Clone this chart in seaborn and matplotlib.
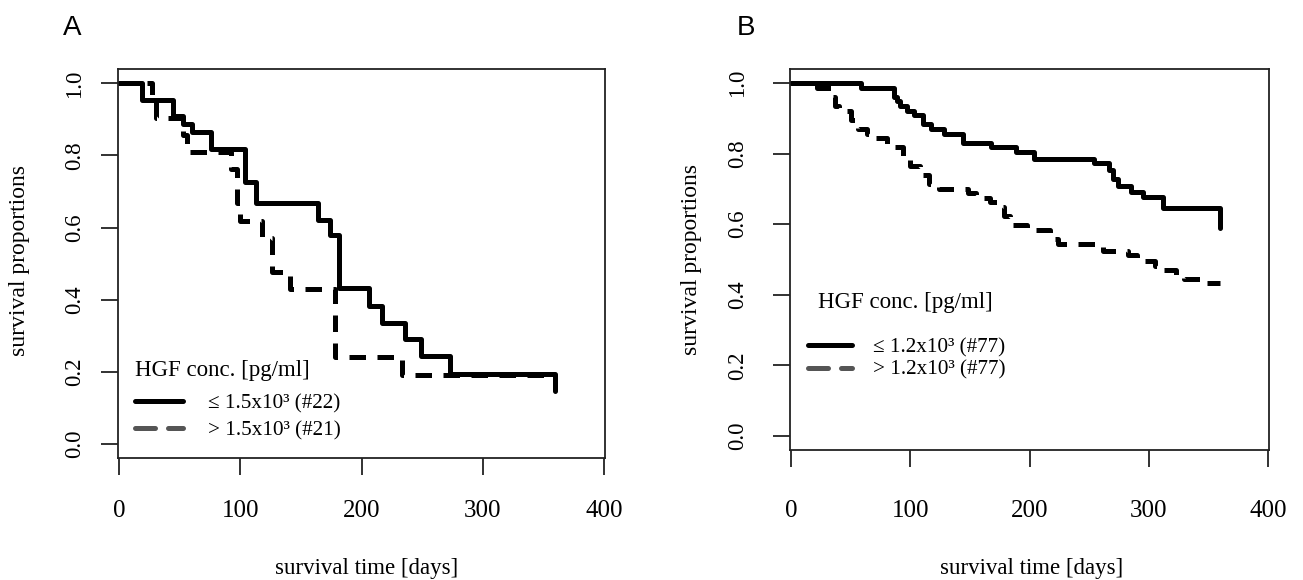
import pandas as pd
import matplotlib
matplotlib.use("Agg")
import matplotlib.pyplot as plt
from matplotlib.lines import Line2D
import seaborn as sns

# Panel A: HGF cut-off 1.5x10^3 pg/ml
a_low_days = [0, 19, 44, 53, 60, 76, 104, 113, 164, 174, 181, 206, 217, 236, 249, 273, 360]
a_low_surv = [1.0, 0.955, 0.909, 0.886, 0.864, 0.818, 0.727, 0.668, 0.621, 0.58, 0.432,
              0.381, 0.335, 0.29, 0.243, 0.192, 0.146]
a_high_days = [0, 27, 30, 53, 56, 92, 97, 100, 118, 126, 141, 178, 233, 358]
a_high_surv = [1.0, 0.952, 0.905, 0.857, 0.81, 0.762, 0.667, 0.619, 0.571, 0.476, 0.429,
               0.24, 0.19, 0.19]

# Panel B: HGF cut-off 1.2x10^3 pg/ml
b_low_days = [0, 59, 86, 89, 91, 97, 103, 111, 117, 128, 144, 168, 189, 204, 254, 267,
              270, 274, 285, 295, 312, 360]
b_low_surv = [1.0, 0.987, 0.961, 0.948, 0.935, 0.922, 0.909, 0.883, 0.870, 0.857, 0.831,
              0.818, 0.805, 0.786, 0.773, 0.753, 0.727, 0.707, 0.692, 0.676, 0.647, 0.589]
b_high_days = [0, 22, 34, 37, 40, 50, 56, 64, 70, 80, 94, 100, 108, 116, 124, 148, 155,
               167, 175, 179, 184, 198, 217, 224, 262, 283, 290, 305, 311, 323, 330, 343, 360]
b_high_surv = [1.0, 0.987, 0.961, 0.935, 0.922, 0.896, 0.870, 0.857, 0.844, 0.818, 0.792,
               0.766, 0.740, 0.714, 0.701, 0.688, 0.675, 0.662, 0.649, 0.623, 0.597, 0.584,
               0.558, 0.545, 0.525, 0.512, 0.496, 0.483, 0.470, 0.457, 0.444, 0.433, 0.433]

a_labels = ["\u2264 1.5x10\u00b3 (#22)", "> 1.5x10\u00b3 (#21)"]
b_labels = ["\u2264 1.2x10\u00b3 (#77)", "> 1.2x10\u00b3 (#77)"]
legend_title = "HGF conc. [pg/ml]"
x_ticks = [0, 100, 200, 300, 400]
y_ticks = [0.0, 0.2, 0.4, 0.6, 0.8, 1.0]


def make_df(low_d, low_s, high_d, high_s):
    low = pd.DataFrame({"day": low_d, "surv": low_s, "group": "low"})
    high = pd.DataFrame({"day": high_d, "surv": high_s, "group": "high"})
    return pd.concat([low, high], ignore_index=True)


df_a = make_df(a_low_days, a_low_surv, a_high_days, a_high_surv)
df_b = make_df(b_low_days, b_low_surv, b_high_days, b_high_surv)

sns.set_style("ticks")
plt.rcParams["font.family"] = ["Liberation Serif", "DejaVu Serif"]
plt.rcParams["text.color"] = "black"
plt.rcParams["axes.labelcolor"] = "black"
plt.rcParams["xtick.color"] = "black"
plt.rcParams["ytick.color"] = "black"

fig = plt.figure(figsize=(13.03, 5.8), dpi=100)
ax_a = fig.add_axes([0.0906, 0.2103, 0.3738, 0.6707])
ax_b = fig.add_axes([0.6063, 0.2241, 0.3676, 0.6569])

LW = 3.6
dash = (3.3, 2.3)

# per panel: axes, data, legend labels, title pos, legend pos, label spacing,
# handle length, handle pad, ylabel pos, xlabel pos, x tick pad, y tick pad
panels = [
    (ax_a, df_a, a_labels, (0.035, 0.226), (0.035, 0.105), 0.35, 2.25, 1.2,
     (-0.203, 0.509), (0.511, -0.285), 18, 11.5),
    (ax_b, df_b, b_labels, (0.058, 0.386), (0.0376, 0.240), 0.15, 2.1, 0.98,
     (-0.205, 0.499), (0.505, -0.312), 24, 18.5),
]

for (ax, df, labels, title_xy, leg_xy, lspace, hlen, hpad,
     ylab_xy, xlab_xy, xpad, ypad) in panels:
    sns.lineplot(data=df, x="day", y="surv", hue="group", style="group",
                 palette={"low": "black", "high": "black"},
                 dashes={"low": "", "high": dash},
                 estimator=None, sort=True, drawstyle="steps-post",
                 linewidth=LW, legend=False, ax=ax)
    ax.set_xlim(-1, 401)
    ax.set_ylim(-0.04, 1.04)
    ax.set_xticks(x_ticks)
    ax.set_yticks(y_ticks)
    ax.set_yticklabels([f"{v:.1f}" for v in y_ticks])
    for s in ax.spines.values():
        s.set_visible(True)
        s.set_linewidth(1.3)
        s.set_color("#222222")
    ax.tick_params(axis="both", direction="out", length=12, width=1.3, color="#222222")
    ax.tick_params(axis="x", labelsize=18, pad=xpad)
    ax.tick_params(axis="y", labelsize=16.5, pad=ypad, labelrotation=90)
    for t in ax.get_yticklabels():
        t.set_va("center")

    ax.set_xlabel("survival time [days]", fontsize=16.5)
    ax.set_ylabel("survival proportions", fontsize=17)
    ax.xaxis.set_label_coords(*xlab_xy)
    ax.yaxis.set_label_coords(*ylab_xy)
    ax.xaxis.label.set_va("center")
    ax.yaxis.label.set_va("center")

    ax.text(title_xy[0], title_xy[1], legend_title, transform=ax.transAxes,
            ha="left", va="center", fontsize=16.5)
    handles = [
        Line2D([], [], color="black", linewidth=LW),
        Line2D([], [], color="#555555", linewidth=LW, dashes=(4, 2.6),
               dash_capstyle="round"),
    ]
    ax.legend(handles, labels, loc="center left", bbox_to_anchor=leg_xy,
              frameon=False, fontsize=15.2, borderpad=0, borderaxespad=0,
              labelspacing=lspace, handlelength=hlen, handletextpad=hpad)

fig.text(72 / 1303, 1 - 28 / 580, "A", fontsize=20, ha="center", va="center",
         family=["Liberation Sans", "DejaVu Sans"])
fig.text(746 / 1303, 1 - 28 / 580, "B", fontsize=20, ha="center", va="center",
         family=["Liberation Sans", "DejaVu Sans"])

fig.savefig("out.png", dpi=100)
